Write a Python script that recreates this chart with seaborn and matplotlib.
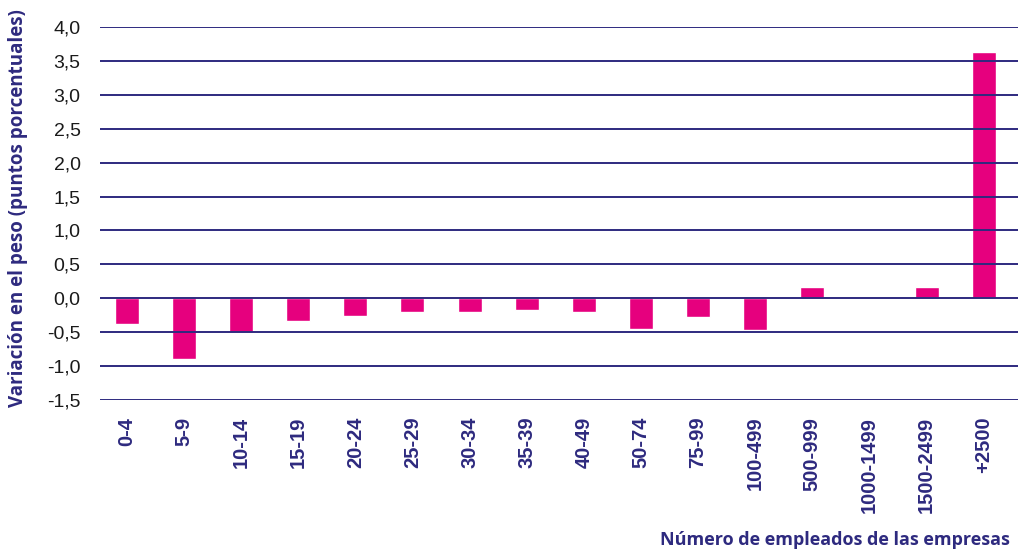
import matplotlib
matplotlib.use("Agg")
import matplotlib.pyplot as plt
import seaborn as sns
import pandas as pd

categories = ["0-4", "5-9", "10-14", "15-19", "20-24", "25-29", "30-34", "35-39",
              "40-49", "50-74", "75-99", "100-499", "500-999", "1000-1499",
              "1500-2499", "+2500"]
values = [-0.38, -0.89, -0.50, -0.33, -0.26, -0.20, -0.20, -0.17,
          -0.20, -0.45, -0.27, -0.47, 0.16, 0.0, 0.16, 3.63]
yticks = [-1.5, -1.0, -0.5, 0.0, 0.5, 1.0, 1.5, 2.0, 2.5, 3.0, 3.5, 4.0]

sns.set_theme(style="white")
plt.rcParams['font.family'] = ['Open Sans', 'DejaVu Sans']

PURPLE = "#2E2A7F"
MAGENTA = "#E6007E"

df = pd.DataFrame({"cat": categories, "val": values})

fig = plt.figure(figsize=(10.18, 5.5), dpi=100)
ax = fig.add_axes([100/1018, 1-400/550, 1-100/1018, (400-27)/550])

sns.barplot(data=df, x="cat", y="val", color=MAGENTA, saturation=1, width=0.42, ax=ax)

ax.set_ylim(-1.5, 4.0)
ax.set_xlim(-0.47, 15.6)
ax.set_yticks(yticks)
ax.set_yticklabels([f"{t:.1f}".replace(".", ",") for t in yticks])
for t in yticks:
    ax.axhline(t, color=PURPLE, lw=1.4, zorder=5)

for s in ax.spines.values():
    s.set_visible(False)
ax.tick_params(axis="both", length=0)
ax.tick_params(axis="y", pad=14, labelsize=14, labelcolor="#1a1a1a")
ax.tick_params(axis="x", pad=12, labelsize=14.5, labelcolor=PURPLE)
for lbl in ax.get_yticklabels():
    lbl.set_fontfamily(["Liberation Sans", "DejaVu Sans"])
for lbl in ax.get_xticklabels():
    lbl.set_rotation(90)
    lbl.set_fontfamily(["Liberation Sans", "DejaVu Sans"])
    lbl.set_fontweight("bold")
ax.set_xlabel("")
ax.set_ylabel("")

fig.text(18/1018, 1-208/550, "Variación en el peso (puntos porcentuales)", rotation=90,
         ha="center", va="center", color=PURPLE, fontsize=13.5, fontweight="bold")
fig.text(1010/1018, 1-531/550, "Número de empleados de las empresas", ha="right", va="top",
         color=PURPLE, fontsize=13, fontweight="bold")

fig.savefig("out.png", dpi=100)
